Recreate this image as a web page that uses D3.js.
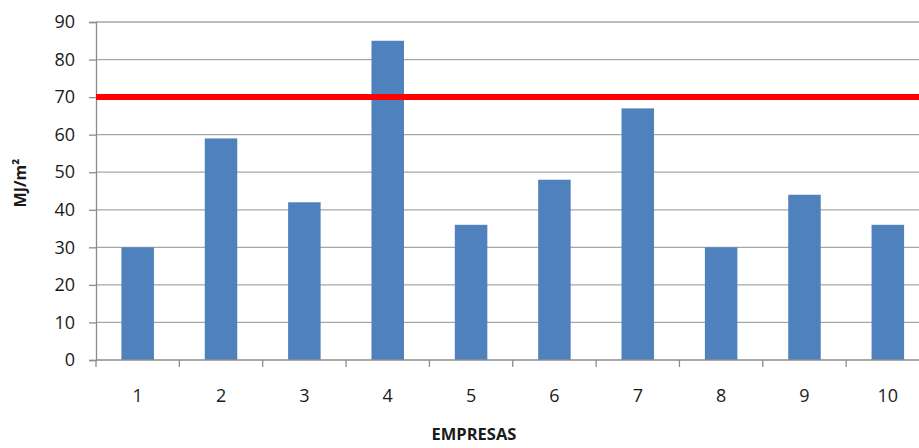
<!DOCTYPE html>
<html>
<head>
<meta charset="utf-8">
<script src="https://cdn.jsdelivr.net/npm/d3@7/dist/d3.min.js"></script>
<style>
  html, body { margin: 0; padding: 0; background: #fff; }
  svg { display: block; }
  text { font-family: "Open Sans", "Liberation Sans", sans-serif; fill: #1a1a1a; }
</style>
</head>
<body>
<svg id="chart" width="919" height="448"></svg>
<script>
// Consumo energético por empresa (MJ/m²)
const empresas = ["1", "2", "3", "4", "5", "6", "7", "8", "9", "10"];
const consumo = [30, 59, 42, 85, 36, 48, 67, 30, 44, 36];
const limite = 70;
const yTicks = [0, 10, 20, 30, 40, 50, 60, 70, 80, 90];

const svg = d3.select("#chart");
const W = 919, H = 448;
const plotLeft = 96, plotTop = 22, plotBottom = 360, plotRight = 929.5;

const x = d3.scaleBand().domain(empresas).range([plotLeft, plotRight]).paddingInner(0.61).paddingOuter(0.305);
const xb = d3.scaleBand().domain(empresas).range([plotLeft, plotRight]);
const y = d3.scaleLinear().domain([0, 90]).range([plotBottom, plotTop]);

// horizontal gridlines
svg.append("g").selectAll("line").data(yTicks.filter(d => d > 0)).join("line")
  .attr("x1", plotLeft).attr("x2", W)
  .attr("y1", d => y(d)).attr("y2", d => y(d))
  .attr("stroke", "#a6a6a6").attr("stroke-width", 1.3);

// bars
svg.append("g").selectAll("rect").data(empresas).join("rect")
  .attr("x", (d) => x(d))
  .attr("width", x.bandwidth())
  .attr("y", (d, i) => y(consumo[i]))
  .attr("height", (d, i) => y(0) - y(consumo[i]))
  .attr("fill", "#4f81bd");

// y axis
const yAxis = svg.append("g").attr("transform", `translate(${plotLeft},0)`)
  .call(d3.axisLeft(y).tickValues(yTicks).tickSize(7).tickPadding(14));
yAxis.select(".domain").attr("stroke", "#8c8c8c").attr("stroke-width", 1.3);
yAxis.selectAll(".tick line").attr("stroke", "#8c8c8c").attr("stroke-width", 1.3);
yAxis.selectAll("text").style("font-size", "18px").attr("fill", "#1a1a1a");

// x axis: ticks at category boundaries
const xg = svg.append("g");
xg.append("line").attr("x1", plotLeft).attr("x2", W).attr("y1", plotBottom).attr("y2", plotBottom)
  .attr("stroke", "#8c8c8c").attr("stroke-width", 1.3);
xg.selectAll("line.tk").data(empresas).join("line").attr("class", "tk")
  .attr("x1", d => xb(d)).attr("x2", d => xb(d))
  .attr("y1", plotBottom).attr("y2", plotBottom + 7)
  .attr("stroke", "#8c8c8c").attr("stroke-width", 1.3);
xg.selectAll("text").data(empresas).join("text")
  .attr("x", d => x(d) + x.bandwidth() / 2)
  .attr("y", 396)
  .attr("dy", "0.35em")
  .attr("text-anchor", "middle")
  .style("font-size", "18px")
  .text(d => d);

// reference line at 70
svg.append("line")
  .attr("x1", plotLeft).attr("x2", W)
  .attr("y1", y(limite)).attr("y2", y(limite))
  .attr("stroke", "#ff0000").attr("stroke-width", 6);

// axis titles
svg.append("text")
  .attr("x", 474).attr("y", 440)
  .attr("text-anchor", "middle")
  .style("font-size", "16.5px").style("font-weight", "bold")
  .text("EMPRESAS");

svg.append("text")
  .attr("transform", "translate(26,183) rotate(-90)")
  .attr("text-anchor", "middle")
  .style("font-size", "16px").style("font-weight", "bold")
  .text("MJ/m²");
</script>
</body>
</html>
